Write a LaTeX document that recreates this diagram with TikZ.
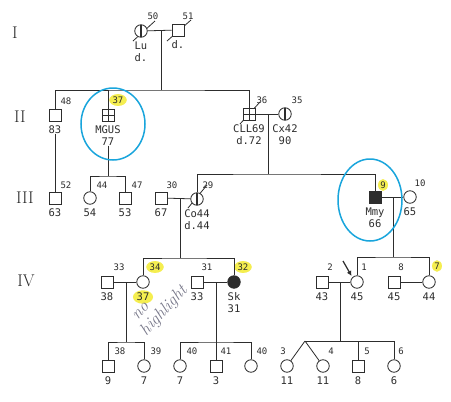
\documentclass[tikz,border=0pt]{standalone}
\usepackage{fontspec}
\setmonofont{DejaVu Sans Mono}
\usetikzlibrary{positioning, arrows.meta, backgrounds, calc, shapes.geometric}
\definecolor{ink}{RGB}{45,45,45}
\definecolor{marker}{RGB}{245,238,80}
\definecolor{circblue}{RGB}{25,165,220}
\definecolor{pencil}{RGB}{120,120,138}

\begin{document}
\begin{tikzpicture}[x=1pt, y=-1pt,
    male/.style={draw=ink, fill=white, rectangle, minimum size=12pt, inner sep=0pt, line width=0.8pt},
    female/.style={draw=ink, fill=white, circle, minimum size=12.5pt, inner sep=0pt, line width=0.8pt},
    aff/.style={fill=ink},
    quad/.style={path picture={\draw[ink, line width=0.8pt]
        (path picture bounding box.north) -- (path picture bounding box.south)
        (path picture bounding box.west) -- (path picture bounding box.east);}},
    half/.style={path picture={\draw[ink, line width=1.1pt]
        (path picture bounding box.north) -- (path picture bounding box.south);}},
    val/.style={font=\fontsize{10.5}{12}\selectfont\ttfamily, text=ink, inner sep=0pt, align=center},
    idn/.style={font=\fontsize{9}{10}\selectfont\ttfamily, text=ink, inner sep=0.5pt},
    hl/.style={fill=marker, ellipse, inner sep=0.8pt},
    gen/.style={font=\fontsize{17}{17}\selectfont\rmfamily, text=ink},
    rel/.style={draw=ink, line width=0.8pt},
    oval/.style={draw=circblue, line width=1.5pt},
    scrawl/.style={text=pencil, font=\fontsize{17}{17}\selectfont\itshape, rotate=47, inner sep=0pt}
  ]
  \useasboundingbox (0,0) rectangle (451,402);

  \node[gen] (gI) at (15,33) {I};
  \node[gen] (gII) at (20,117) {II};
  \node[gen] (gIII) at (25,198) {III};
  \node[gen] (gIV) at (26,281) {IV};

  % generation I and II
  \node[female, half] (i50) at (141,31) {};
  \node[male] (i51) at (178,30) {};
  \node[male] (ii48) at (55,115) {};
  \node[male, quad] (ii37) at (108,115) {};
  \node[male, quad] (ii36) at (249,114) {};
  \node[female, half] (ii35) at (285,114) {};
  % generation III
  \node[male] (iii52) at (55,198) {};
  \node[female] (iii44) at (90,198) {};
  \node[male] (iii47) at (125,198) {};
  \node[male] (iii30) at (161,198) {};
  \node[female, half] (iii29) at (197,199) {};
  \node[male, aff] (iii9) at (375,197) {};
  \node[female] (iii10) at (410,197) {};
  % generation IV
  \node[male] (iv33) at (107,282) {};
  \node[female] (iv34) at (143,282) {};
  \node[male] (iv31) at (197,282) {};
  \node[female, aff] (iv32) at (234,282) {};
  \node[male] (iv2) at (322,282) {};
  \node[female] (iv1) at (357,282) {};
  \node[male] (iv8) at (394,282) {};
  \node[female] (iv7) at (429,282) {};
  % generation V
  \foreach \n/\x/\s in {v38/108/male, v39/144/female, v40/180/female, v41/216/male,
                        v40b/251/female, v3/287/female, v4/323/female, v5/358/male, v6/394/female}
    { \node[\s] (\n) at (\x,366) {}; }

  % ages and notes under the symbols
  \foreach \n/\t in {i50/{Lu\\d.}, i51/d., ii48/83, ii37/{MGUS\\77}, ii36/{CLL69\\d.72},
                     ii35/{Cx42\\90}, iii52/63, iii44/54, iii47/53, iii30/67, iii29/{Co44\\d.44},
                     iii9/{Mmy\\66}, iii10/65, iv33/38, iv31/33, iv32/{Sk\\31}, iv2/43, iv1/45,
                     iv8/45, iv7/44, v38/9, v39/7, v40/7, v41/3, v3/11, v4/11, v5/8, v6/6}
    { \node[val, below=4pt of \n] (\n-v) {\t}; }
  \node[val, hl] (iv34-v) at (143,297) {37};

  % individual numbers
  \foreach \n/\x/\y/\t in {i50/153/16/50, i51/188/16/51, ii48/66/101/48, ii36/262/100/36,
                           ii35/297/100/35, iii52/66/185/52, iii44/102/185/44, iii47/137/185/47,
                           iii30/172/185/30, iii29/208/185/29, iii10/420/183/10, iv33/119/267/33,
                           iv31/207/267/31, iv2/330/267/2, iv1/364/267/1, iv8/401/267/8,
                           v38/120/351/38, v39/156/351/39, v40/192/351/40, v41/226/351/41,
                           v40b/262/351/40, v3/283/351/3, v4/331/351/4, v5/367/351/5, v6/401/351/6}
    { \node[idn] (\n-id) at (\x,\y) {\t}; }
  \foreach \n/\x/\y/\t in {ii37/118/100/37, iii9/383/185/9, iv34/155/267/34, iv32/243/267/32,
                           iv7/437/266/7}
    { \node[idn, hl] (\n-id) at (\x,\y) {\t}; }

  % matings and sibships
  \coordinate (mI) at (161,31);    \coordinate (sII) at (161,90);
  \coordinate (mII) at (268,114);  \coordinate (sIII) at (268,174);
  \coordinate (sMG) at (108,176);
  \coordinate (mIII) at (180,198); \coordinate (sIV) at (180,258);
  \coordinate (mIIIb) at (393,197);\coordinate (sIVb) at (393,257);
  \coordinate (mIVa) at (126,282); \coordinate (sVa) at (126,342);
  \coordinate (mIVb) at (216,282); \coordinate (sVb) at (216,342);
  \coordinate (mIVc) at (340,282); \coordinate (sVc) at (340,341);
  \coordinate (tw) at (305,341);

  \draw[rel] (i50) -- (i51);
  \draw[rel] (mI) -- (sII);
  \draw[rel] (ii48.north) |- (sII) -| (ii36.north);
  \draw[rel] (ii37.north) -- (ii37.north |- sII);
  \draw[rel] (ii48-v) -- (iii52);
  \draw[rel] (ii37-v) -- (sMG);
  \draw[rel] (iii44.north) |- (sMG) -| (iii47.north);
  \draw[rel] (ii36) -- (ii35);
  \draw[rel] (mII) -- (sIII);
  \draw[rel] (iii29.north) |- (sIII) -| (iii9.north);

  \draw[rel] (iii30) -- (iii29);
  \draw[rel] (mIII) -- (sIV);
  \draw[rel] (iv34.north) |- (sIV) -| (iv32.north);
  \draw[rel] (iii9) -- (iii10);
  \draw[rel] (mIIIb) -- (sIVb);
  \draw[rel] (iv1.north) |- (sIVb) -| (iv7.north);

  \draw[rel] (iv33) -- (iv34);
  \draw[rel] (mIVa) -- (sVa);
  \draw[rel] (v38.north) |- (sVa) -| (v39.north);
  \draw[rel] (iv31) -- (iv32);
  \draw[rel] (mIVb) -- (v41.north);
  \draw[rel] (v40.north) |- (sVb) -| (v40b.north);
  \draw[rel] (iv2) -- (iv1);
  \draw[rel] (mIVc) -- (sVc);
  \draw[rel] (tw) -| (v6.north);
  \draw[rel] (v5.north) -- (v5.north |- tw);
  \draw[rel] (tw) -- (v3);
  \draw[rel] (tw) -- (v4);
  \draw[rel] (iv8) -- (iv7);

  % proband
  \coordinate (pa) at (343,261);
  \draw[rel, line width=1.2pt, -{Latex[length=5pt, width=5pt]}, shorten >=1.5pt] (pa) -- (iv1.north west);

  \draw[oval] (113,124) ellipse [x radius=32pt, y radius=36pt];
  \draw[oval] (370,200) ellipse [x radius=32pt, y radius=41pt];

  \node[scrawl] (note1) at (141,311) {no};
  \node[scrawl] (note2) at (164,311) {highlight};

  \begin{scope}[on background layer]
    \fill[white] (0,0) rectangle (451,402);
    % deceased
    \foreach \n/\a/\b/\c/\d in {i50/-8/10/14/-10, i51/-11/11/13/-10, ii36/-9/10/11/-12, iii29/-9/9/10/-14}
      { \draw[rel] ($(\n)+(\a,\b)$) -- ($(\n)+(\c,\d)$); }
  \end{scope}
\end{tikzpicture}
\end{document}
